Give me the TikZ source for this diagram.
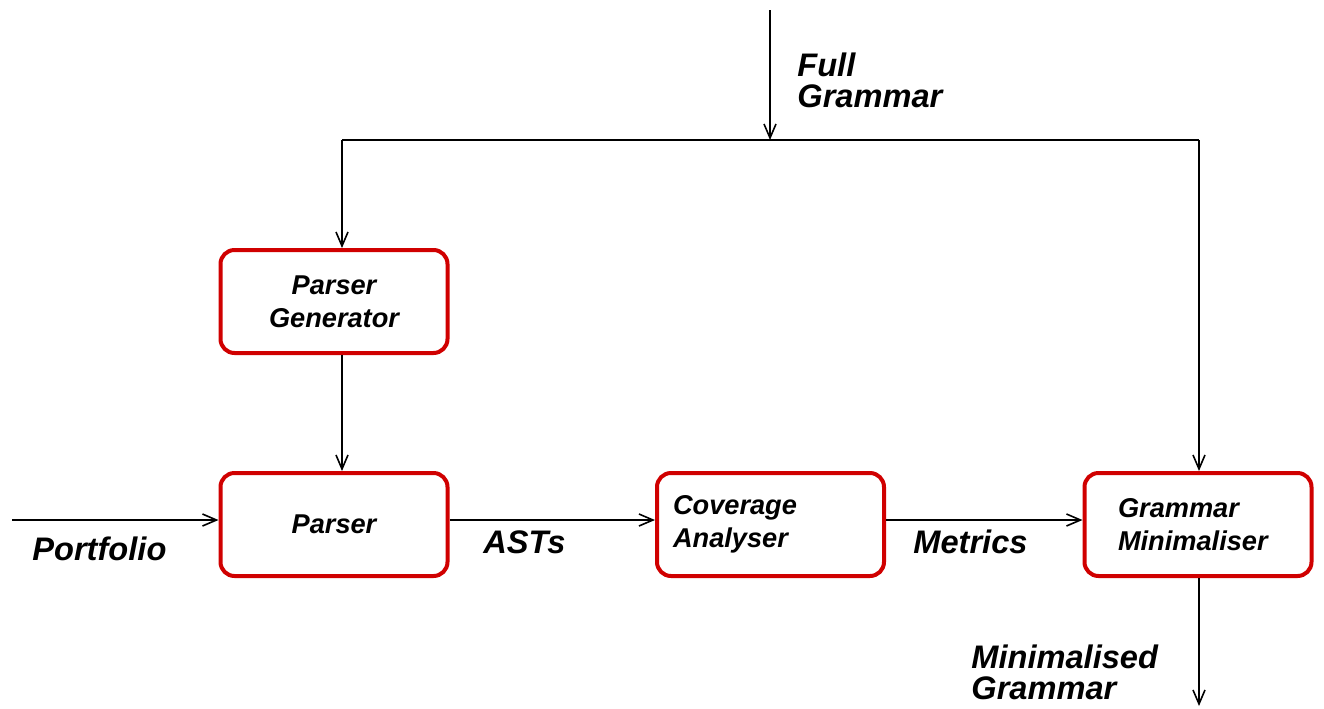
\documentclass[tikz,border=0pt]{standalone}
\usepackage{fontspec}
\setmainfont{Liberation Sans}
\usepackage{tikz}
\usetikzlibrary{arrows.meta,positioning,calc}

\definecolor{boxred}{RGB}{208,0,0}

\tikzset{
  blk/.style={draw=boxred,line width=2pt,rounded corners=7pt,
    minimum width=113.5pt,minimum height=51.5pt,
    font=\fontsize{13.6}{16.3}\selectfont\bfseries\itshape},
  tag/.style={anchor=base west,inner sep=0pt,align=left,
    font=\fontsize{16.3}{15.5}\selectfont\bfseries\itshape},
  flow/.style={line width=0.8pt,-{Straight Barb[length=7pt,width=6pt]}}
}

\begin{document}
\begin{tikzpicture}[x=0.5pt,y=-0.5pt]
\useasboundingbox (0,0) rectangle (1324,708);

% blocks
\node[blk,align=center] (pg) at (334,301.5) {Parser\\Generator};
\node[blk] (parser) at (334,524.5) {Parser};
\node[blk,text width=97.5pt,align=left] (ca) at (770.5,524.5) {Coverage\\Analyser};
\node[blk,text width=80pt,align=left] (gm) at (1198,524.5) {Grammar\\Minimaliser};

% free ends and corners
\coordinate (src) at (770,10);
\coordinate (split) at (770,140);
\coordinate (lt) at (342,140);
\coordinate (rt) at (1199,140);
\coordinate (port) at (12,520);
\coordinate (out) at (1199,706);

% connectors
\draw[flow] (src) -- (split);
\draw[line width=0.8pt] (lt) -- (rt);
\draw[flow] (lt) -- (lt |- pg.north);
\draw[flow] (pg.south -| lt) -- (parser.north -| lt);
\draw[flow] (rt) -- (rt |- gm.north);
\draw[flow] (port) -- (parser.west |- port);
\draw[flow] (parser.east |- port) -- (ca.west |- port);
\draw[flow] (ca.east |- port) -- (gm.west |- port);
\draw[flow] (gm.south -| rt) -- (out);

% labels
\node[tag] (full) at (797,107) {Full\\Grammar};
\node[tag] (portl) at (32,560) {Portfolio};
\node[tag] (asts) at (483,553) {ASTs};
\node[tag] (metr) at (913,553) {Metrics};
\node[tag] (mini) at (971,699) {Minimalised\\Grammar};
\end{tikzpicture}
\end{document}
